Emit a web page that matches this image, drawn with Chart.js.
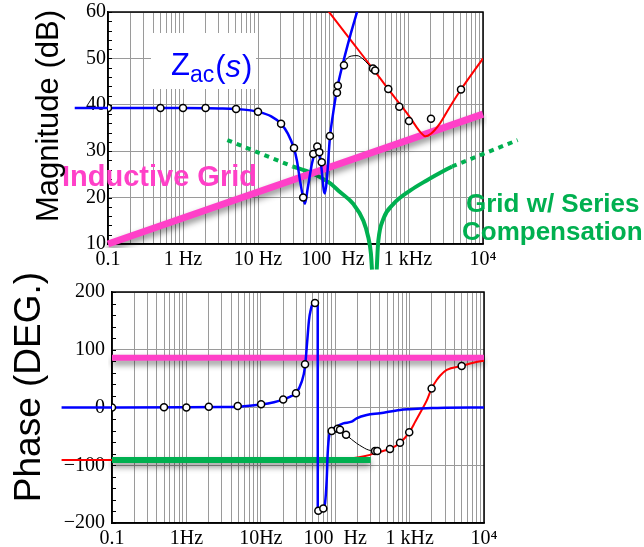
<!DOCTYPE html>
<html>
<head>
<meta charset="utf-8">
<script src="https://cdn.jsdelivr.net/npm/chart.js@4.4.1/dist/chart.umd.min.js"></script>
<style>
html, body { margin: 0; padding: 0; background: #fff; }
#wrap { position: relative; width: 644px; height: 547px; overflow: hidden; }
canvas { position: absolute; left: 0; }
</style>
</head>
<body>
<div id="wrap">
  <canvas id="magChart" width="644" height="270" style="top:0"></canvas>
  <canvas id="phaseChart" width="644" height="277" style="top:270px"></canvas>
</div>
<script>
// frequency axis (shared)
const decades = [0.1, 1, 10, 100, 1000, 10000];
const magFreqLabels = ['0.1', '1 Hz', '10 Hz', '100  Hz', '1 kHz', '10\u2074'];
const phaseFreqLabels = ['0.1', '1Hz', '10Hz', '100  Hz', '1 kHz', '10\u2074'];

// magnitude axis
const magTicks = [10, 20, 30, 40, 50, 60];
// phase axis
const phaseTicks = [-200, -100, 0, 100, 200];
const phaseTickLabels = ['\u2212200', '\u2212100', '0', '100', '200'];

// ---- magnitude (dB) ----
// Zac(s) model, blue
const zacFreq = [0.036, 0.1, 0.3, 1, 3, 5, 8, 10, 15, 20, 25, 30, 33, 36.3, 40, 42.3, 46, 50, 52.5, 57.5, 61, 65, 70, 75.5, 78, 82.6, 91, 100, 113, 136, 169, 209, 230];
const zacMag  = [39.3, 39.3, 39.3, 39.3, 39.2, 39.1, 38.8, 38.5, 37.5, 36, 33.8, 30.7, 28, 23.7, 20, 18.7, 22, 25.5, 27.4, 29.8, 30.9, 29.6, 26.5, 21.5, 20.9, 23.7, 33, 38, 43.3, 49, 54.8, 60, 62.5];
// resonance model, red
const resFreq = [80, 100, 200, 300, 500, 700, 1000, 1300, 1500, 1700, 2000, 2670, 3630, 5090, 10000];
const resMag  = [60.9, 58.9, 52.6, 48.9, 44.2, 41.1, 37.9, 35.2, 33.9, 33.2, 33.7, 36, 39.6, 43.3, 50];
// fitted curve, thin black
const fitFreq = [113, 125, 136, 150, 175, 209, 250, 300, 341, 363];
const fitMag  = [43, 46.5, 48.5, 49.8, 50.5, 50.6, 49.9, 48.6, 47.7, 47.3];
// measured points
const measFreq = [0.1, 0.5, 1, 2, 5.1, 10, 20.3, 30.2, 40, 54.6, 61.7, 65.7, 70.7, 91, 113, 116, 140, 341, 365, 546, 766, 1030, 2026, 5090];
const measMag  = [39.3, 39.3, 39.3, 39.3, 39.1, 38.5, 35.9, 30.7, 20, 29.4, 31, 29.8, 27.6, 33.3, 42.6, 44.1, 48.5, 47.8, 47.4, 43.4, 39.6, 36.5, 37, 43.3];
// inductive grid, magenta
const gridFreq = [0.1, 10000];
const gridMag  = [10, 38];
// grid with series compensation, green
const compDotLeftFreq = [3.9, 29];
const compDotLeftMag  = [32.4, 26.7];
const compLeftFreq = [29, 50, 91, 124, 187, 254, 296, 320, 331];
const compLeftMag  = [26.7, 25.4, 23.1, 21.2, 18.6, 15, 11.4, 8, 4.5];
const compRightFreq = [383, 392, 402, 469, 637, 1063, 1774, 3280, 3860];
const compRightMag  = [4.5, 8, 10.7, 15.4, 18.6, 21.5, 23.7, 26.1, 26.7];
const compDotRightFreq = [3860, 29000];
const compDotRightMag  = [26.7, 32.4];

// ---- phase (deg) ----
const zacPhFreq = [0.021, 0.1, 1, 3, 5, 10, 15, 20, 25, 29.7, 35.5, 39.3, 42.2, 44.4, 46.9, 49.8, 54.7, 57.5, 58.2, 58.3, 62, 69.2, 73, 76.9, 79.3, 83.2, 89.7, 104.7, 128.5, 166, 194, 265, 400, 743, 1000, 2000, 3000, 10000];
const zacPh     = [0, 0, 0.3, 1, 1.5, 5, 9, 14, 19, 24.6, 44.7, 70.7, 117, 151, 169, 180, 181, 180, 178, -178, -180, -176, -166, -125, -79, -47.6, -39, -33, -27.4, -24.6, -18.8, -13, -10, -4.3, -3, -1, -0.5, 0];
const resPhFreq = [0.021, 1, 10, 50, 100, 158, 200, 293, 343, 450, 545, 743, 989, 1200, 1455, 1697, 1977, 2313, 2566, 3155, 5010, 7177, 10000];
const resPh     = [-91, -91, -90.7, -90, -89, -88, -86.5, -82, -79, -75, -72, -61, -43, -24, -4.3, 11.8, 33, 47.6, 55, 65, 72, 77.6, 81];
const fitPhFreq = [90, 100, 108, 116, 140, 165, 194, 230, 265, 300, 343, 368, 400];
const fitPh     = [-40.7, -38.5, -37, -38.5, -47, -55, -62, -68, -72.4, -74.5, -75.5, -75.8, -75.5];
const measPhFreq = [0.1, 0.5, 1, 2, 4.9, 10.1, 20, 29.7, 39.3, 53.5, 59.3, 69.2, 89.7, 108, 116, 140, 343, 368, 545, 743, 989, 1977, 5010];
const measPh     = [0, 0.3, 0, 1.4, 2.6, 5.5, 14, 24.6, 75, 181, -178.7, -175, -40.7, -37, -38.5, -47, -75.3, -75.5, -72, -61, -43, 33, 72];
const gridPhFreq = [0.1, 10000];
const gridPh     = [86, 86];
const compPhFreq = [0.1, 300];
const compPh     = [-91, -91];

const BLUE = '#0000ff', RED = '#ff0000', MAGENTA = '#ff40c8', GREEN = '#00b050', GRID = '#9a9a9a';
const tickFont = { family: "'Liberation Serif', 'Times New Roman', serif", size: 20, lineHeight: 1 };

function pts(xs, ys) { return xs.map((x, i) => ({ x: x, y: ys[i] })); }

// vertical grid lines at 1..9 of every decade
const gridFreqs = [];
decades.slice(0, -1).forEach(d => { for (let k = 1; k < 10; k++) gridFreqs.push(d * k); });
gridFreqs.push(10000);

function freqAxis(labels, height) {
  return {
    type: 'logarithmic', min: 0.1, max: 10000,
    afterBuildTicks: s => { s.ticks = gridFreqs.map(v => ({ value: v })); },
    afterFit: s => { s.height = height; },
    grid: { color: GRID, lineWidth: 1, drawTicks: false },
    border: { color: '#000', width: 1.5 },
    ticks: {
      autoSkip: false, maxRotation: 0, minRotation: 0, padding: 6, color: '#000', font: tickFont,
      callback: v => { const i = decades.indexOf(v); return i < 0 ? '' : labels[i]; }
    }
  };
}

function curve(data, color, width, clip, extra) {
  return Object.assign({
    data: data, borderColor: color, borderWidth: width, pointRadius: 0,
    cubicInterpolationMode: 'monotone', fill: false, clip: clip
  }, extra || {});
}

function markers(data) {
  return {
    data: data, showLine: false, pointRadius: 3.5, pointBorderWidth: 1.5,
    pointBorderColor: '#000', pointBackgroundColor: '#fff'
  };
}

const shadowPlugin = {
  id: 'lineShadow',
  beforeDatasetDraw(chart, args) {
    if (!chart.data.datasets[args.index].shadowed) return;
    const ctx = chart.ctx;
    ctx.save();
    ctx.shadowColor = 'rgba(0,0,0,0.45)';
    ctx.shadowBlur = 6;
    ctx.shadowOffsetY = 4;
  },
  afterDatasetDraw(chart, args) {
    if (chart.data.datasets[args.index].shadowed) chart.ctx.restore();
  }
};

function framePlugin(minorStep) {
  return {
    id: 'frame',
    beforeDatasetsDraw(chart) {
      const { ctx, chartArea: a, scales: { y } } = chart;
      ctx.save();
      ctx.strokeStyle = '#000';
      ctx.lineWidth = 1.5;
      ctx.strokeRect(a.left, a.top, a.right - a.left, a.bottom - a.top);
      ctx.lineWidth = 1;
      ctx.beginPath();
      for (let v = y.min; v <= y.max; v += minorStep) {
        const py = Math.round(y.getPixelForValue(v)) + 0.5;
        ctx.moveTo(a.left, py);
        ctx.lineTo(a.left + 4, py);
      }
      ctx.stroke();
      if (chart.canvas.id === 'magChart') {
        ctx.fillStyle = '#fff';
        ctx.fillRect(151, 33, 105, 56);
      }
      ctx.restore();
    }
  };
}

const magText = {
  id: 'magText',
  afterDraw(chart) {
    const ctx = chart.ctx;
    ctx.save();
    ctx.textBaseline = 'alphabetic';
    ctx.textAlign = 'left';
    // Zac(s)
    ctx.fillStyle = BLUE;
    let x = 171;
    ctx.font = '31px "Liberation Sans"';
    ctx.fillText('Z', x, 75); x += ctx.measureText('Z').width;
    ctx.font = '23px "Liberation Sans"';
    ctx.fillText('ac', x, 82); x += ctx.measureText('ac').width + 1;
    ctx.font = '31px "Liberation Sans"';
    ctx.fillText('(', x, 77); x += ctx.measureText('(').width;
    ctx.font = 'italic 31px "Liberation Sans"';
    ctx.fillText('s', x, 77); x += ctx.measureText('s').width + 1;
    ctx.font = '31px "Liberation Sans"';
    ctx.fillText(')', x, 77);
    // labels
    ctx.fillStyle = MAGENTA;
    ctx.font = 'bold 29px "Liberation Sans"';
    ctx.fillText('Inductive Grid', 62, 186);
    ctx.fillStyle = GREEN;
    ctx.font = 'bold 26px "Liberation Sans"';
    ctx.fillText('Grid w/ Series', 466, 212);
    ctx.fillText('Compensation', 462, 240);
    // axis title
    ctx.fillStyle = '#000';
    ctx.font = '31px "Liberation Sans"';
    ctx.translate(58, 116);
    ctx.rotate(-Math.PI / 2);
    ctx.textAlign = 'center';
    ctx.fillText('Magnitude (dB)', 0, 0);
    ctx.restore();
  }
};

const phaseText = {
  id: 'phaseText',
  afterDraw(chart) {
    const ctx = chart.ctx;
    ctx.save();
    ctx.fillStyle = '#000';
    ctx.font = '37px "Liberation Sans"';
    ctx.textAlign = 'center';
    ctx.textBaseline = 'alphabetic';
    ctx.translate(40, 117);
    ctx.rotate(-Math.PI / 2);
    ctx.fillText('Phase (DEG.)', 0, 0);
    ctx.restore();
  }
};

const noClipLeft = { left: false, top: 0, right: 0, bottom: 0 };

new Chart(document.getElementById('magChart'), {
  type: 'line',
  data: {
    datasets: [
      markers(pts(measFreq, measMag)),
      curve(pts(zacFreq, zacMag), BLUE, 2.5, noClipLeft),
      curve(pts(fitFreq, fitMag), '#000', 1, 0),
      curve(pts(resFreq, resMag), RED, 2, 0),
      curve(pts(gridFreq, gridMag), MAGENTA, 7, 4, { shadowed: true }),
      curve(pts(compLeftFreq, compLeftMag), GREEN, 4, { left: 0, top: 0, right: 0, bottom: false }),
      curve(pts(compRightFreq, compRightMag), GREEN, 4, { left: 0, top: 0, right: 0, bottom: false }),
      curve(pts(compDotLeftFreq, compDotLeftMag), GREEN, 4, 0, { borderDash: [5, 5] }),
      curve(pts(compDotRightFreq, compDotRightMag), GREEN, 4, { left: 0, top: 0, right: false, bottom: 0 }, { borderDash: [5, 5] })
    ]
  },
  options: {
    responsive: false,
    animation: false,
    layout: { padding: { left: 0, top: 12, right: 161, bottom: 0 } },
    plugins: { legend: { display: false }, tooltip: { enabled: false } },
    scales: {
      x: freqAxis(magFreqLabels, 26),
      y: {
        min: 10, max: 60,
        afterBuildTicks: s => { s.ticks = magTicks.map(v => ({ value: v })); },
        afterFit: s => { s.width = 108; },
        grid: { color: GRID, lineWidth: 1, drawTicks: false },
        border: { color: '#000', width: 1.5 },
        ticks: { padding: 2, color: '#000', font: tickFont, callback: v => String(v) }
      }
    }
  },
  plugins: [shadowPlugin, framePlugin(2), magText]
});

new Chart(document.getElementById('phaseChart'), {
  type: 'line',
  data: {
    datasets: [
      markers(pts(measPhFreq, measPh)),
      curve(pts(zacPhFreq, zacPh), BLUE, 2.5, noClipLeft),
      curve(pts(fitPhFreq, fitPh), '#000', 1, 0),
      curve(pts(compPhFreq, compPh), GREEN, 6, 4, { shadowed: true }),
      curve(pts(resPhFreq, resPh), RED, 2, noClipLeft),
      curve(pts(gridPhFreq, gridPh), MAGENTA, 6, 4, { shadowed: true })
    ]
  },
  options: {
    responsive: false,
    animation: false,
    layout: { padding: { left: 0, top: 22, right: 160, bottom: 0 } },
    plugins: { legend: { display: false }, tooltip: { enabled: false } },
    scales: {
      x: freqAxis(phaseFreqLabels, 24),
      y: {
        min: -200, max: 200,
        afterBuildTicks: s => { s.ticks = phaseTicks.map(v => ({ value: v })); },
        afterFit: s => { s.width = 112; },
        grid: { color: GRID, lineWidth: 1, drawTicks: false },
        border: { color: '#000', width: 1.5 },
        ticks: { padding: 7, color: '#000', font: tickFont, callback: v => phaseTickLabels[phaseTicks.indexOf(v)] }
      }
    }
  },
  plugins: [shadowPlugin, framePlugin(20), phaseText]
});
</script>
</body>
</html>
